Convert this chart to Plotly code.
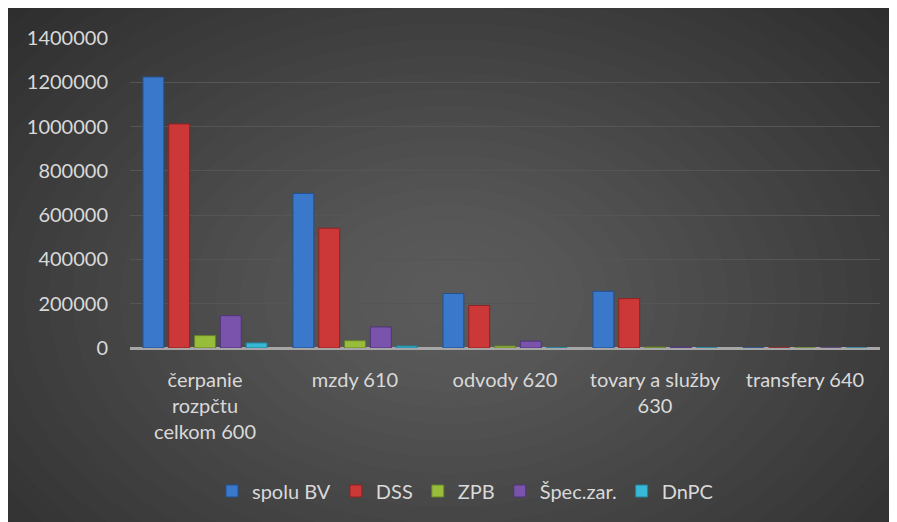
import plotly.graph_objects as go

categories = ["čerpanie<br>rozpčtu<br>celkom 600", "mzdy 610", "odvody 620",
              "tovary a služby<br>630", "transfery 640"]
series_names = ["spolu BV", "DSS", "ZPB", "Špec.zar.", "DnPC"]
spolu_bv = [1224000, 698000, 246000, 256000, 1200]
dss = [1012000, 541000, 192000, 223000, 1000]
zpb = [56000, 33000, 9000, 4000, 200]
spec_zar = [146000, 95000, 31000, 4000, 200]
dnpc = [23000, 9000, 1500, 1000, 100]
y_ticks = [0, 200000, 400000, 600000, 800000, 1000000, 1200000, 1400000]

colors = ["#3a78cc", "#cc3737", "#98bd3a", "#7a53ad", "#36b8d6"]
line_colors = ["#24508f", "#8f2222", "#66832a", "#4f3577", "#23809a"]

series = [spolu_bv, dss, zpb, spec_zar, dnpc]

fig = go.Figure()
for name, vals, c, lc in zip(series_names, series, colors, line_colors):
    fig.add_trace(go.Bar(x=categories, y=vals, name=name,
                         marker=dict(color=c, line=dict(color=lc, width=1))))

# page body has an 8px margin, so figure coords = screen coords - 8
W, H = 897, 522
L, R, T, B = 122, 25, 30, 182
pw, ph = W - L - R, H - T - B

def px_x(p):
    return (p - L) / pw

def px_y(p):
    return (H - B - p) / ph

shapes = []
# radial-ish light glow (figure coords)
cx, cy = 440, 290
n = 26
for i in range(n):
    rx = 640 - i * 24
    ry = 440 - i * 16.5
    shapes.append(dict(type="circle", xref="paper", yref="paper", layer="below",
                       x0=px_x(cx - rx), x1=px_x(cx + rx),
                       y0=px_y(cy + ry), y1=px_y(cy - ry),
                       fillcolor="rgba(255,255,255,0.011)", line=dict(width=0)))

fig.update_layout(
    width=W, height=H,
    margin=dict(l=L, r=R, t=T, b=B),
    paper_bgcolor="#2a2a2a",
    plot_bgcolor="rgba(0,0,0,0)",
    barmode="group", bargap=0.14, bargroupgap=0.19,
    font=dict(family="Lato, Carlito, sans-serif", size=20, color="#d9d9d9"),
    shapes=shapes,
    showlegend=True,
    legend=dict(orientation="h", x=px_x(457), y=px_y(483), xanchor="center",
                yanchor="middle", font=dict(size=20, color="#d9d9d9"),
                bgcolor="rgba(0,0,0,0)", traceorder="normal"),
    xaxis=dict(showgrid=False, showline=False, ticks="outside", ticklen=14,
               tickcolor="rgba(0,0,0,0)", tickfont=dict(size=20, color="#d9d9d9")),
    yaxis=dict(range=[0, 1400000], tickvals=y_ticks, tickformat="d",
               showgrid=True, gridcolor="#555555", gridwidth=1,
               zeroline=True, zerolinecolor="#a6a6a6", zerolinewidth=3,
               ticks="outside", ticklen=17, tickcolor="rgba(0,0,0,0)",
               tickfont=dict(size=20, color="#d9d9d9"), showline=False),
)

fig.write_html("out.html")
